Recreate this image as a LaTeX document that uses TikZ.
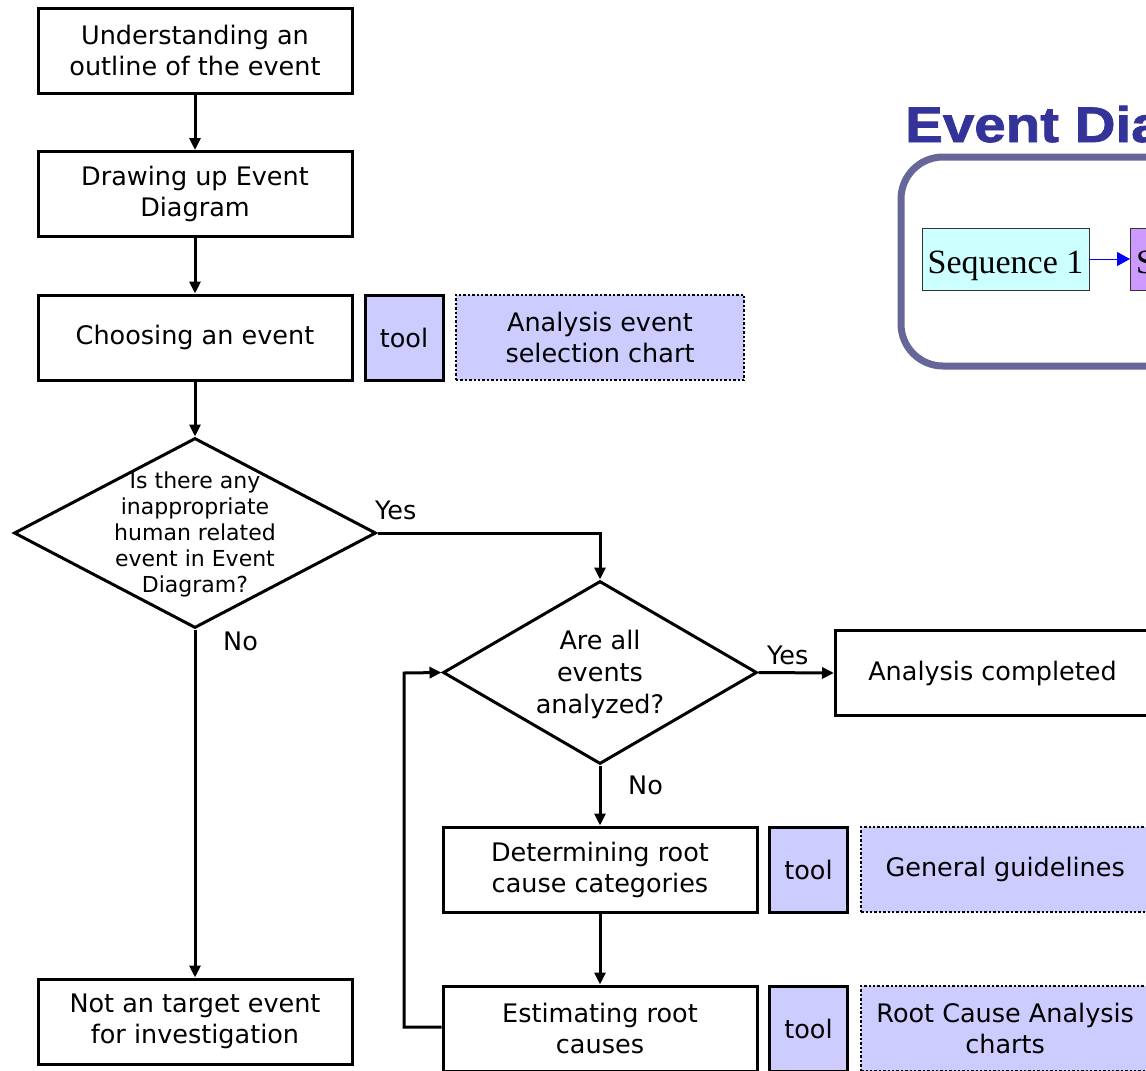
\documentclass[tikz,border=0pt]{standalone}
\usepackage{fontspec}
\setmainfont{DejaVu Sans}
\newfontfamily\titlefont[FakeStretch=1.13,FakeBold=1.5]{Liberation Sans}
\newfontfamily\seqfont{Liberation Serif}
\usetikzlibrary{arrows.meta,shapes.geometric}
\definecolor{toolfill}{HTML}{CCCCFF}
\definecolor{titleblue}{HTML}{333399}
\definecolor{frameblue}{HTML}{666699}
\definecolor{seqcyan}{HTML}{CCFFFF}
\definecolor{seqviolet}{HTML}{CC99FF}
\tikzset{
  stepbox/.style={draw=black, line width=3pt, fill=white, minimum width=314pt, minimum height=85pt, inner sep=0pt, align=center, font=\fontsize{25.5}{31}\selectfont},
  toolbox/.style={draw=black, line width=3pt, fill=toolfill, minimum width=78pt, minimum height=85pt, inner sep=0pt, font=\fontsize{25.5}{31}\selectfont},
  refbox/.style={draw=black, line width=2.4pt, dotted, fill=toolfill, minimum width=288pt, minimum height=85pt, inner sep=0pt, align=center, font=\fontsize{25.5}{31}\selectfont},
  decision/.style={draw=black, line width=3pt, diamond, inner sep=0pt},
  conn/.style={draw=black, line width=3pt, -{Triangle[length=12pt,width=11pt]}},
  lbl/.style={font=\fontsize{25.5}{30}\selectfont, inner sep=0pt},
  seqbox/.style={draw=black!80, line width=1pt, minimum width=167pt, minimum height=62pt, inner sep=0pt, text height=29pt, text depth=1pt, font=\seqfont\fontsize{34}{36}\selectfont},
}
\begin{document}
\begin{tikzpicture}[x=1pt,y=-1pt]
\useasboundingbox (0,0) rectangle (1146,1071);
\clip (0,0) rectangle (1146,1071);
\fill[white] (0,0) rectangle (1146,1071);

% inset
\node[anchor=base west, inner sep=0pt, text=titleblue, font=\titlefont\bfseries\fontsize{50}{56}\selectfont] (title) at (905,142) {Event Diagram};
\draw[frameblue, line width=7pt, rounded corners=42pt] (901,157) rectangle (1400,366);
\node[seqbox, fill=seqcyan] (s1) at (1005.5,259) {Sequence 1};
\node[seqbox, fill=seqviolet, anchor=west] (s2) at (1130,259) {Sequence 2};
\draw[blue, line width=1pt, -{Triangle[length=13pt,width=14pt]}] (s1.east) -- (s2.west);

% left column
\node[stepbox] (b1) at (195,50.5) {Understanding an\\outline of the event};
\node[stepbox] (b2) at (195,194) {Drawing up Event\\Diagram};
\node[stepbox] (b3) at (195,337.5) {Choosing an event};
\node[toolbox] (t1) at (404,337.5) {tool};
\node[refbox] (r1) at (600,337.5) {Analysis event\\selection chart};

\node[decision, minimum width=362pt, minimum height=190pt] (d1) at (195,533) {};
\node[align=center, inner sep=0pt, font=\fontsize{22}{26}\selectfont] (d1t) at (195,534) {Is there any\\inappropriate\\human related\\event in Event\\Diagram?};

\node[stepbox] (b4) at (195,1021.5) {Not an target event\\for investigation};

% right column
\node[decision, minimum width=314pt, minimum height=183pt] (d2) at (600,672.5) {};
\node[align=center, inner sep=0pt, font=\fontsize{25.5}{32}\selectfont] (d2t) at (600,674) {Are all\\events\\analyzed?};

\node[stepbox, anchor=west] (b5) at (834,673) {Analysis completed};

\node[stepbox] (b6) at (600,869.5) {Determining root\\cause categories};
\node[toolbox] (t2) at (808.5,869.5) {tool};
\node[refbox, anchor=west] (r2) at (860,869.5) {General guidelines};

\node[stepbox] (b7) at (600,1028.5) {Estimating root\\causes};
\node[toolbox] (t3) at (808.5,1028.5) {tool};
\node[refbox, anchor=west] (r3) at (860,1028.5) {Root Cause Analysis\\charts};

% connectors
\draw[conn] (b1.south) -- (b2.north);
\draw[conn] (b2.south) -- (b3.north);
\draw[conn] (b3.south) -- (d1.north);
\draw[conn] (d1.east) -| (d2.north);
\draw[conn] (d1.south) -- (b4.north);
\draw[conn] (d2.east) -- (b5.west);
\draw[conn] (d2.south) -- (b6.north);
\draw[conn] (b6.south) -- (b7.north);
\coordinate (lp1) at (404,1027);
\coordinate (lp2) at (404,673);
\draw[conn] (b7.west |- lp1) -- (lp1) -- (lp2) -- (d2.west);

% labels
\node[lbl, anchor=base west] (y1) at (375,519) {Yes};
\node[lbl, anchor=base west] (n1) at (223,650) {No};
\node[lbl, anchor=base west] (y2) at (767,664) {Yes};
\node[lbl, anchor=base west] (n2) at (628,794) {No};
\end{tikzpicture}
\end{document}
